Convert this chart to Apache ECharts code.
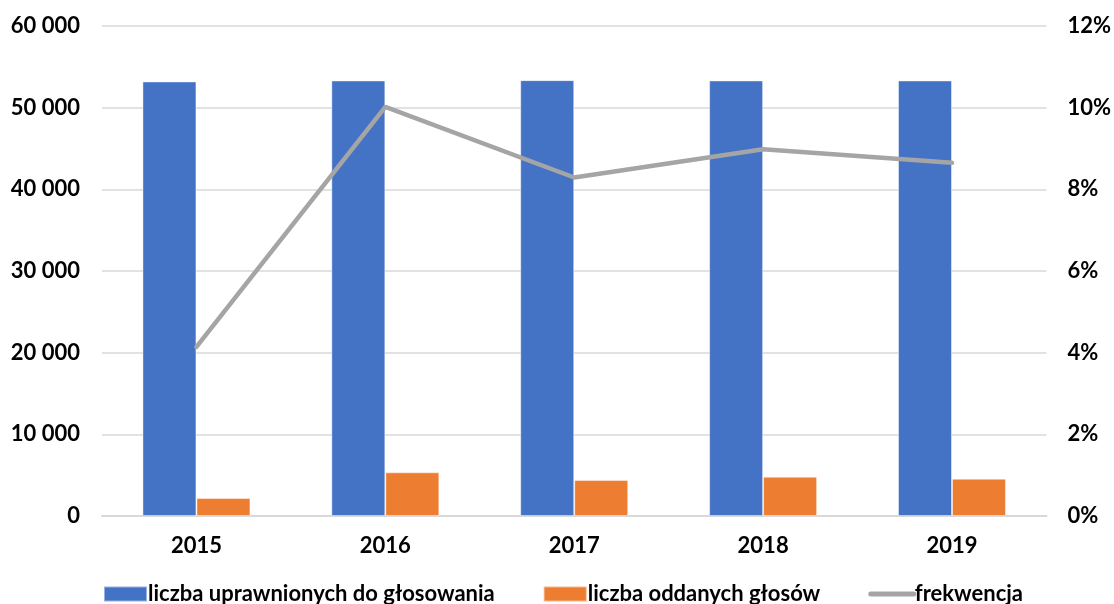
<!DOCTYPE html>
<html>
<head>
<meta charset="utf-8">
<script src="https://cdn.jsdelivr.net/npm/echarts@6/dist/echarts.min.js"></script>
<style>
  html, body { margin: 0; padding: 0; background: #fff; }
  #chart { width: 1114px; height: 604px; }
</style>
</head>
<body>
<div id="chart"></div>
<script>
// lata
const years = ["2015", "2016", "2017", "2018", "2019"];
// liczba uprawnionych do głosowania
const uprawnieni = [53210, 53330, 53370, 53330, 53330];
// liczba oddanych głosów
const oddane = [2200, 5350, 4410, 4810, 4570];
// frekwencja w %
const frekwencja = [4.14, 10.02, 8.29, 8.98, 8.65];

const font = "Lato";
const fmt = (v) => String(v).replace(/\B(?=(\d{3})+(?!\d))/g, " ");

const chart = echarts.init(document.getElementById("chart"));
chart.setOption({
  animation: false,
  textStyle: { fontFamily: font },
  grid: { left: 102, right: 67, top: 26, bottom: 88 },
  legend: {
    top: 578,
    left: 98,
    itemGap: 48,
    itemWidth: 43,
    itemHeight: 15,
    textStyle: { fontSize: 22, fontWeight: "bold", color: "#000", padding: [0, 0, 0, -4] },
    data: [
      { name: "liczba uprawnionych do głosowania", icon: "rect" },
      { name: "liczba oddanych głosów", icon: "rect" },
      { name: "frekwencja", itemStyle: { opacity: 0 }, lineStyle: { width: 5, cap: "round" } }
    ]
  },
  xAxis: {
    type: "category",
    data: years,
    axisTick: { show: false },
    axisLine: { lineStyle: { color: "#D9D9D9", width: 2 } },
    axisLabel: { color: "#000", fontSize: 22, fontWeight: "bold", margin: 19 }
  },
  yAxis: [
    {
      type: "value",
      min: 0, max: 60000, interval: 10000,
      axisLine: { show: false },
      axisTick: { show: false },
      splitLine: { lineStyle: { color: "#D9D9D9", width: 1.5 } },
      axisLabel: { color: "#000", fontSize: 22, fontWeight: "bold", margin: 22, formatter: fmt }
    },
    {
      type: "value",
      min: 0, max: 12, interval: 2,
      axisLine: { show: false },
      axisTick: { show: false },
      splitLine: { show: false },
      axisLabel: { color: "#000", fontSize: 22, fontWeight: "bold", margin: 21, formatter: (v) => v + "%" }
    }
  ],
  series: [
    {
      name: "liczba uprawnionych do głosowania",
      type: "bar",
      data: uprawnieni,
      barWidth: 54,
      barGap: "0%",
      itemStyle: { color: "#4472C4", borderColor: "rgba(255,255,255,0.45)", borderWidth: 1 }
    },
    {
      name: "liczba oddanych głosów",
      type: "bar",
      data: oddane,
      barWidth: 54,
      barGap: "0%",
      itemStyle: { color: "#ED7D31", borderColor: "rgba(255,255,255,0.45)", borderWidth: 1 }
    },
    {
      name: "frekwencja",
      type: "line",
      yAxisIndex: 1,
      data: frekwencja,
      symbol: "none",
      lineStyle: { color: "#A5A5A5", width: 4.5, cap: "round" },
      itemStyle: { color: "#A5A5A5" }
    }
  ]
});
</script>
</body>
</html>
